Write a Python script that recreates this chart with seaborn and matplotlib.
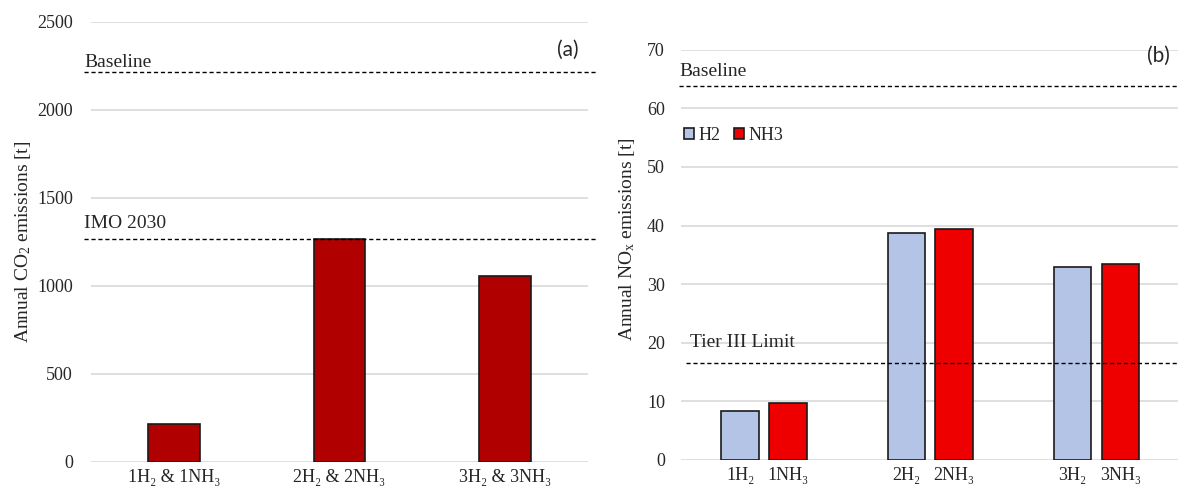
import pandas as pd
import matplotlib.pyplot as plt
import seaborn as sns

# === DATA ===
co2_labels = ["1H₂ & 1NH₃", "2H₂ & 2NH₃", "3H₂ & 3NH₃"]
co2_values = [218, 1268, 1058]
co2_baseline = 2218
co2_imo_2030 = 1265

nox_groups = ["1", "2", "3"]
nox_fuels = ["H2", "NH3"]
nox_h2 = [8.4, 38.8, 33.0]
nox_nh3 = [9.8, 39.5, 33.5]
nox_tick_labels = ["1H₂", "1NH₃", "2H₂", "2NH₃", "3H₂", "3NH₃"]
nox_baseline = 63.8
nox_tier3 = 16.6

# === STYLE ===
sns.set_theme(style="white")
plt.rcParams["font.family"] = ["Liberation Serif", "DejaVu Serif"]
plt.rcParams["mathtext.fontset"] = "custom"
plt.rcParams["mathtext.rm"] = "Liberation Serif"
plt.rcParams["mathtext.it"] = "Liberation Serif:italic"

grid_col = "#d9d9d9"
edge_col = "#1a1a1a"
dash = (0, (3, 2))

fig = plt.figure(figsize=(11.78, 4.93), dpi=100)
ax1 = fig.add_axes([0.0773, 0.0629, 0.4219, 0.8925])
ax2 = fig.add_axes([0.578, 0.067, 0.422, 0.832])

# --- (a) CO2 ---
df_co2 = pd.DataFrame({"case": co2_labels, "co2": co2_values})
sns.barplot(data=df_co2, x="case", y="co2", color="#b00000", saturation=1,
            width=0.313, edgecolor=edge_col, linewidth=1.2, ax=ax1)
ax1.set_ylim(0, 2500)
ax1.set_xlim(-0.5, 2.5)
ax1.set_yticks([0, 500, 1000, 1500, 2000, 2500])
ax1.set_xlabel("")
ax1.set_ylabel("Annual CO$_2$ emissions [t]", fontsize=14)
ax1.yaxis.set_label_coords(-0.117, 0.5)
ax1.axhline(co2_baseline, xmin=-0.014, xmax=1.018, color="black", lw=1, ls=dash, clip_on=False)
ax1.axhline(co2_imo_2030, xmin=-0.014, xmax=1.018, color="black", lw=1, ls=dash, clip_on=False)
ax1.annotate("Baseline", xy=(-0.014, co2_baseline), xycoords=("axes fraction", "data"),
             xytext=(0, 3), textcoords="offset points", va="baseline", fontsize=14)
ax1.annotate("IMO 2030", xy=(-0.014, co2_imo_2030), xycoords=("axes fraction", "data"),
             xytext=(0, 8), textcoords="offset points", va="baseline", fontsize=14)
ax1.text(0.982, 0.936, "(a)", transform=ax1.transAxes, ha="right", va="center",
         fontsize=15, family="Lato")

# --- (b) NOx ---
df_nox = pd.DataFrame({
    "group": nox_groups * 2,
    "fuel": [nox_fuels[0]] * 3 + [nox_fuels[1]] * 3,
    "nox": nox_h2 + nox_nh3,
})
sns.barplot(data=df_nox, x="group", y="nox", hue="fuel", palette=["#b4c4e6", "#ee0000"],
            saturation=1, width=0.575, gap=0.216, edgecolor=edge_col, linewidth=1.2, ax=ax2)
ax2.set_ylim(0, 70)
ax2.set_xlim(-0.5, 2.49)
ax2.set_yticks(range(0, 71, 10))
centers = sorted(p.get_x() + p.get_width() / 2 for p in ax2.patches if p.get_height() > 0)
ax2.set_xticks(centers)
ax2.set_xticklabels(nox_tick_labels)
ax2.set_xlabel("")
ax2.set_ylabel("Annual NO$_\\mathrm{x}$ emissions [t]", fontsize=14)
ax2.yaxis.set_label_coords(-0.0885, 0.537)
ax2.axhline(nox_baseline, xmin=-0.004, xmax=1.0, color="black", lw=1, ls=dash, clip_on=False)
ax2.axhline(nox_tier3, xmin=0.01, xmax=1.0, color="black", lw=1, ls=dash, clip_on=False)
ax2.annotate("Baseline", xy=(-0.004, nox_baseline), xycoords=("axes fraction", "data"),
             xytext=(0, 7), textcoords="offset points", va="baseline", fontsize=14)
ax2.annotate("Tier III Limit", xy=(0.018, nox_tier3), xycoords=("axes fraction", "data"),
             xytext=(0, 11), textcoords="offset points", va="baseline", fontsize=14)
ax2.text(0.984, 0.984, "(b)", transform=ax2.transAxes, ha="right", va="center",
         fontsize=15, family="Lato")
handles, labels = ax2.get_legend_handles_labels()
for h in handles:
    h.set_edgecolor(edge_col)
    h.set_linewidth(1.2)
ax2.legend(handles, labels, loc="center left", bbox_to_anchor=(0.0, 0.792), ncol=2,
           frameon=False, fontsize=13, handlelength=0.55, handleheight=0.55,
           handletextpad=0.2, columnspacing=0.8, borderaxespad=0, borderpad=0.2)

for ax, pad in ((ax1, 13), (ax2, 11.5)):
    ax.yaxis.grid(True, color=grid_col, lw=1.2)
    ax.set_axisbelow(True)
    sns.despine(ax=ax, left=True, bottom=True)
    ax.tick_params(axis="both", length=0, labelsize=13)
    ax.tick_params(axis="y", pad=pad)
    ax.tick_params(axis="x", pad=5)

plt.savefig("out.png", dpi=100)
plt.close()
